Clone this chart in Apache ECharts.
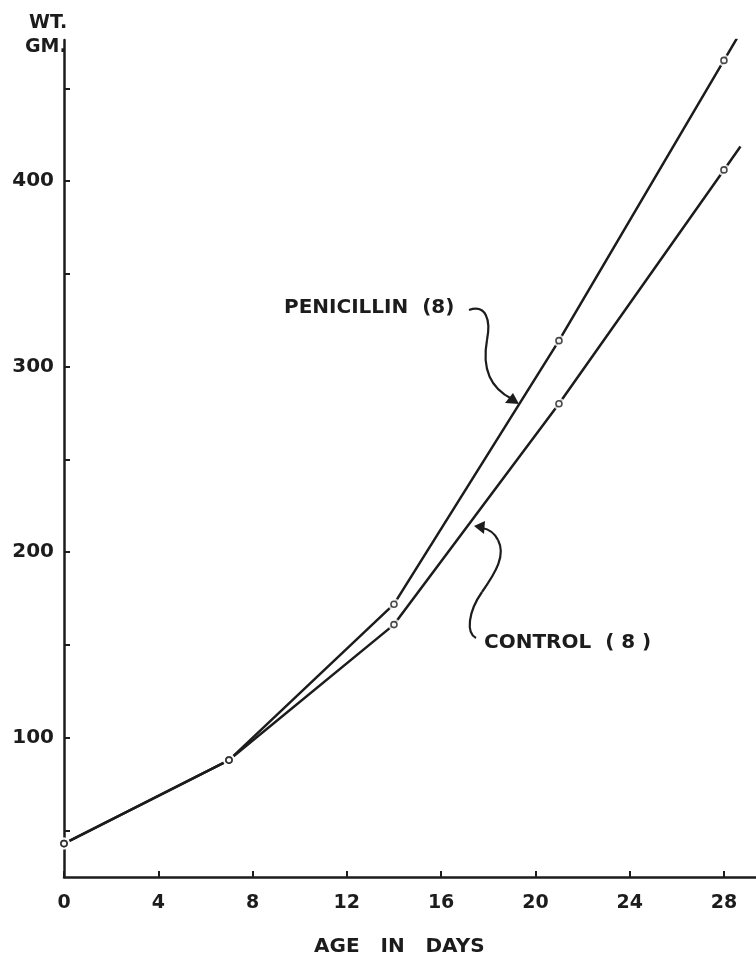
<!DOCTYPE html>
<html>
<head>
<meta charset="utf-8">
<script src="https://cdn.jsdelivr.net/npm/echarts@6/dist/echarts.min.js"></script>
<style>
  html, body { margin: 0; padding: 0; background: #fff; }
  #chart { width: 756px; height: 956px; }
</style>
</head>
<body>
<div id="chart"></div>
<script>
// Age (days) at each weighing
const days = [0, 7, 14, 21, 28];
// Mean body weight (g), 8 animals per group
const penicillin = [43, 88, 172, 314, 465];
const control = [43, 88, 161, 280, 406];

const xTicks = [0, 4, 8, 12, 16, 20, 24, 28];
const yTicks = [50, 100, 150, 200, 250, 300, 350, 400, 450];
const yLabels = [100, 200, 300, 400];

const INK = '#1c1c1c';
const FONT = 'DejaVu Sans';

// each curve runs a little past the last weighing along its final segment
function withTail(xs, ys, toDay) {
  const n = xs.length;
  const slope = (ys[n - 1] - ys[n - 2]) / (xs[n - 1] - xs[n - 2]);
  const pts = xs.map((d, i) => [d, ys[i]]);
  pts.push([toDay, ys[n - 1] + slope * (toDay - xs[n - 1])]);
  return pts;
}
const pairs = (xs, ys) => xs.map((d, i) => [d, ys[i]]);

const chart = echarts.init(document.getElementById('chart'), null, { renderer: 'canvas' });

const lineSeries = (name, ys, tailDay) => ({
  name, type: 'line', data: withTail(days, ys, tailDay),
  symbol: 'none', silent: true, z: 2,
  lineStyle: { color: INK, width: 2.5 }
});
// white ring that breaks the curve around each weighing
const halo = ys => ({
  type: 'scatter', data: pairs(days, ys), symbol: 'circle', symbolSize: 12,
  itemStyle: { color: '#fff' }, z: 3, silent: true
});
const marker = ys => ({
  type: 'scatter', data: pairs(days, ys), symbol: 'circle', symbolSize: 6,
  itemStyle: { color: '#fff', borderColor: INK, borderWidth: 1.6 }, z: 4, silent: true
});

chart.setOption({
  backgroundColor: '#fff',
  animation: false,
  grid: { left: 64, right: 0, top: 40, bottom: 79 },
  xAxis: {
    type: 'value', min: 0, max: 29.36,
    axisLine: { show: true, lineStyle: { color: INK, width: 2.5 } },
    axisTick: { show: true, inside: true, length: 6, customValues: xTicks, lineStyle: { color: INK, width: 2 } },
    axisLabel: { customValues: xTicks, color: INK, fontFamily: FONT, fontWeight: 'bold', fontSize: 19, margin: 17 },
    splitLine: { show: false }
  },
  yAxis: {
    type: 'value', min: 25, max: 476,
    axisLine: { show: true, lineStyle: { color: INK, width: 2.5 } },
    axisTick: { show: true, inside: true, length: 6, customValues: yTicks, lineStyle: { color: INK, width: 2 } },
    axisLabel: { customValues: yLabels, color: INK, fontFamily: FONT, fontWeight: 'bold', fontSize: 20, margin: 10 },
    splitLine: { show: false }
  },
  series: [
    lineSeries('PENICILLIN (8)', penicillin, 28.55),
    lineSeries('CONTROL (8)', control, 28.7),
    halo(penicillin), halo(control),
    marker(penicillin), marker(control)
  ],
  graphic: [
    { type: 'text', left: 29, top: 14, style: { text: 'WT.', fill: INK, font: 'bold 19px ' + FONT } },
    { type: 'text', left: 25, top: 38, style: { text: 'GM.', fill: INK, font: 'bold 19px ' + FONT } },
    { type: 'text', left: 314, top: 937, style: { text: 'AGE   IN   DAYS', fill: INK, font: 'bold 20px ' + FONT } },
    { type: 'text', left: 284, top: 298, style: { text: 'PENICILLIN  (8)', fill: INK, font: 'bold 20px ' + FONT } },
    { type: 'text', left: 484, top: 633, style: { text: 'CONTROL  ( 8 )', fill: INK, font: 'bold 20px ' + FONT } },
    // pointer from the PENICILLIN label down to its curve
    { type: 'bezierCurve', shape: { x1: 469, y1: 310, cpx1: 486, cpy1: 304, cpx2: 491, cpy2: 320, x2: 487, y2: 340 },
      style: { stroke: INK, lineWidth: 2.2, fill: null } },
    { type: 'bezierCurve', shape: { x1: 487, y1: 340, cpx1: 483, cpy1: 362, cpx2: 486, cpy2: 386, x2: 512, y2: 399 },
      style: { stroke: INK, lineWidth: 2.2, fill: null } },
    { type: 'polygon', shape: { points: [[519, 404], [505, 403], [513, 393]] }, style: { fill: INK } },
    // pointer from the CONTROL label up to its curve
    { type: 'bezierCurve', shape: { x1: 476, y1: 638, cpx1: 466, cpy1: 633, cpx2: 468, cpy2: 612, x2: 482, y2: 592 },
      style: { stroke: INK, lineWidth: 2.2, fill: null } },
    { type: 'bezierCurve', shape: { x1: 482, y1: 592, cpx1: 496, cpy1: 572, cpx2: 506, cpy2: 555, x2: 498, y2: 540 },
      style: { stroke: INK, lineWidth: 2.2, fill: null } },
    { type: 'bezierCurve', shape: { x1: 498, y1: 540, cpx1: 494, cpy1: 532, cpx2: 488, cpy2: 529, x2: 482, y2: 528 },
      style: { stroke: INK, lineWidth: 2.2, fill: null } },
    { type: 'polygon', shape: { points: [[474, 526], [485, 521], [484, 534]] }, style: { fill: INK } }
  ]
});
</script>
</body>
</html>
